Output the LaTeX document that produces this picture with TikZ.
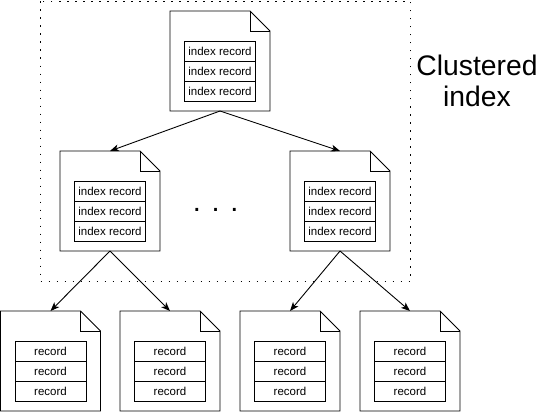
\documentclass[tikz,border=0pt]{standalone}
\usepackage{fontspec}
\setmainfont{Liberation Sans}
\usetikzlibrary{positioning, arrows.meta}

\tikzset{
  doc/.style={minimum width=100pt, minimum height=100pt, inner sep=0pt, outer sep=0pt},
  rec/.style={draw, line width=0.9pt, minimum width=71pt, minimum height=20pt, inner sep=0pt, outer sep=0pt, font=\fontsize{11.5}{13}\selectfont},
  link/.style={line width=0.9pt, -{Stealth[length=9pt, width=7pt, inset=2.5pt]}},
}

\begin{document}
\begin{tikzpicture}[x=1pt, y=-1pt]
  \useasboundingbox (0,0) rectangle (551,412);

  % Cluster frame
  \draw[line width=1.5pt, dash pattern=on 1.5pt off 6.5pt] (40.5,1.5) rectangle (410.5,281.5);
  \node[font=\fontsize{28.3}{31}\selectfont, align=center] (title) at (477,81) {Clustered\\index};

  % Pages
  \node[doc] (top) at (220,61) {};
  \node[doc] (midL) at (110,201) {};
  \node[doc] (midR) at (340,201) {};
  \node[doc] (leafA) at (50.5,361) {};
  \node[doc] (leafB) at (170,361) {};
  \node[doc] (leafC) at (290,361) {};
  \node[doc] (leafD) at (410,361) {};

  \foreach \p in {top,midL,midR,leafA,leafB,leafC,leafD} {
    \draw[line width=0.9pt] (\p.north west) -- ([xshift=-20pt]\p.north east) -- ([yshift=-20pt]\p.north east) -- (\p.south east) -- (\p.south west) -- cycle;
    \draw[line width=0.9pt] ([xshift=-20pt]\p.north east) -- ([xshift=-20pt,yshift=-20pt]\p.north east) -- ([yshift=-20pt]\p.north east);
  }

  % Index records
  \foreach \p in {top,midL,midR} {
    \node[rec, below=30pt of \p.north] (\p-1) {index record};
    \node[rec, below=0pt of \p-1] (\p-2) {index record};
    \node[rec, below=0pt of \p-2] (\p-3) {index record};
  }

  % Data records
  \foreach \p in {leafA,leafB,leafC,leafD} {
    \node[rec, below=30pt of \p.north] (\p-1) {record};
    \node[rec, below=0pt of \p-1] (\p-2) {record};
    \node[rec, below=0pt of \p-2] (\p-3) {record};
  }

  \node[font=\fontsize{29}{30}\selectfont, anchor=base] (more) at (215.6,211.7) {. . .};

  % Links
  \draw[link] (top.south) -- (midL.north);
  \draw[link] (top.south) -- (midR.north);
  \draw[link] (midL.south) -- (leafA.north);
  \draw[link] (midL.south) -- (leafB.north);
  \draw[link] (midR.south) -- (leafC.north);
  \draw[link] (midR.south) -- (leafD.north);
\end{tikzpicture}
\end{document}
